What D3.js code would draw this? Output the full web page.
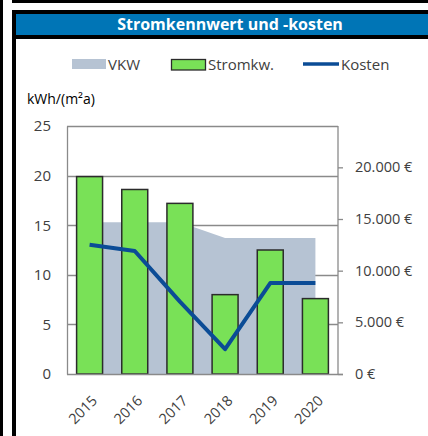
<!DOCTYPE html>
<html>
<head>
<meta charset="utf-8">
<script src="https://cdn.jsdelivr.net/npm/d3@7/dist/d3.min.js"></script>
<style>
  html, body { margin: 0; padding: 0; background: #fff; }
  svg { display: block; }
  text { font-family: "Open Sans", "Liberation Sans", sans-serif; }
</style>
</head>
<body>
<svg id="chart" width="428" height="436"></svg>
<script>
// Electricity consumption per area (kWh/(m²a)) and yearly electricity costs
const years = ["2015", "2016", "2017", "2018", "2019", "2020"];
const vkw = [15.3, 15.3, 15.3, 13.7, 13.7, 13.7];          // reference value (area)
const stromkw = [19.9, 18.6, 17.2, 8.0, 12.5, 7.6];         // consumption (bars)
const kosten = [12500, 11900, 7000, 2400, 8800, 8800];      // costs in € (line)
const leftTicks = [0, 5, 10, 15, 20, 25];
const rightTicks = [0, 5000, 10000, 15000, 20000];
const legendLabels = ["VKW", "Stromkw.", "Kosten"];
const title = "Stromkennwert und -kosten";
const unitLabel = "kWh/(m²a)";

const colors = {
  title: "#0075B6",
  vkw: "#B6C3D3",
  bar: "#79E157",
  barStroke: "#2b2b2b",
  line: "#0B4C96",
  grid: "#8a8a8a",
  text: "#404040"
};

const svg = d3.select("#chart");

// Frame around the panel
svg.append("rect").attr("x", 0).attr("y", 0).attr("width", 3).attr("height", 436).attr("fill", "#000");
svg.append("rect").attr("x", 12).attr("y", 0).attr("width", 416).attr("height", 3).attr("fill", "#000");
svg.append("rect").attr("x", 12).attr("y", 10).attr("width", 4).attr("height", 426).attr("fill", "#000");
svg.append("rect").attr("x", 12).attr("y", 10).attr("width", 416).attr("height", 4).attr("fill", "#000");
svg.append("rect").attr("x", 16).attr("y", 14).attr("width", 412).attr("height", 21).attr("fill", colors.title);
svg.append("rect").attr("x", 12).attr("y", 35).attr("width", 416).attr("height", 4).attr("fill", "#000");

svg.append("text")
  .attr("x", 230).attr("y", 30)
  .attr("text-anchor", "middle")
  .attr("fill", "#fff")
  .attr("font-weight", "bold")
  .attr("font-size", 16)
  .text(title);

// Scales
const plot = { left: 67, right: 338, top: 126, bottom: 374 };
const x = d3.scaleBand()
  .domain(years)
  .range([plot.left, plot.right])
  .paddingInner(0.425)
  .paddingOuter(0.2125);
const cx = d => x(d) + x.bandwidth() / 2;
const yL = d3.scaleLinear().domain([0, 25]).range([plot.bottom, plot.top]);
const yR = d3.scaleLinear().domain([0, 24000]).range([plot.bottom, plot.top]);

const euro = d3.formatLocale({
  decimal: ",", thousands: ".", grouping: [3], currency: ["", " €"]
}).format("$,");

// Horizontal grid lines
svg.append("g")
  .selectAll("line")
  .data(leftTicks.filter(t => t > 0))
  .join("line")
  .attr("x1", plot.left).attr("x2", plot.right)
  .attr("y1", d => Math.round(yL(d)) + 0.5).attr("y2", d => Math.round(yL(d)) + 0.5)
  .attr("stroke", colors.grid).attr("stroke-width", 1.3);

// VKW area
const area = d3.area()
  .x((d, i) => cx(years[i]))
  .y0(yL(0))
  .y1(d => yL(d));
svg.append("path")
  .datum(vkw)
  .attr("d", area)
  .attr("fill", colors.vkw);

// Left axis (labels only, no tick marks)
const leftAxis = d3.axisLeft(yL).tickValues(leftTicks).tickSize(0).tickPadding(16);
const gL = svg.append("g").attr("transform", `translate(${plot.left},0)`).call(leftAxis);
gL.select(".domain").attr("stroke", colors.grid).attr("stroke-width", 1.3);
gL.selectAll("text").attr("font-size", 15).attr("fill", colors.text).attr("font-family", "Open Sans, sans-serif");

// Right axis for costs
const rightAxis = d3.axisRight(yR).tickValues(rightTicks).tickSize(5).tickPadding(12).tickFormat(euro);
const gR = svg.append("g").attr("transform", `translate(${plot.right},0)`).call(rightAxis);
gR.select(".domain").attr("stroke", colors.grid).attr("stroke-width", 1.3).attr("d", `M0,${plot.top}V${plot.bottom}`);
gR.selectAll(".tick line").attr("stroke", colors.grid).attr("stroke-width", 1.3);
gR.selectAll("text").attr("font-size", 14.5).attr("fill", colors.text).attr("font-family", "Open Sans, sans-serif");

// Bars
svg.append("g")
  .selectAll("rect")
  .data(stromkw)
  .join("rect")
  .attr("x", (d, i) => x(years[i]))
  .attr("y", d => yL(d))
  .attr("width", x.bandwidth())
  .attr("height", d => yL(0) - yL(d))
  .attr("fill", colors.bar)
  .attr("stroke", colors.barStroke)
  .attr("stroke-width", 1.5);

// Bottom axis line
svg.append("line")
  .attr("x1", plot.left).attr("x2", plot.right + 5)
  .attr("y1", plot.bottom + 0.5).attr("y2", plot.bottom + 0.5)
  .attr("stroke", colors.grid).attr("stroke-width", 1.3);

// Cost line
const line = d3.line()
  .x((d, i) => cx(years[i]))
  .y(d => yR(d));
svg.append("path")
  .datum(kosten)
  .attr("d", line)
  .attr("fill", "none")
  .attr("stroke", colors.line)
  .attr("stroke-width", 4)
  .attr("stroke-linejoin", "round");

// Year labels, rotated
svg.append("g")
  .selectAll("text")
  .data(years)
  .join("text")
  .attr("transform", d => `translate(${cx(d) + 5},${plot.bottom + 24}) rotate(-45)`)
  .attr("text-anchor", "end")
  .attr("dy", "0.35em")
  .attr("font-size", 14.5)
  .attr("fill", colors.text)
  .text(d => d);

// Unit label
svg.append("text")
  .attr("x", 27).attr("y", 104)
  .attr("font-size", 14)
  .attr("fill", "#000")
  .text(unitLabel);

// Legend
const lg = svg.append("g");
lg.append("rect").attr("x", 72).attr("y", 59).attr("width", 34).attr("height", 10).attr("fill", colors.vkw);
lg.append("rect").attr("x", 171.5).attr("y", 59.5).attr("width", 34).attr("height", 10.5)
  .attr("fill", colors.bar).attr("stroke", colors.barStroke).attr("stroke-width", 1.3);
lg.append("line").attr("x1", 303).attr("x2", 339).attr("y1", 64).attr("y2", 64)
  .attr("stroke", colors.line).attr("stroke-width", 3.5);
const legendX = [108, 208, 341];
lg.selectAll("text.lbl")
  .data(legendLabels)
  .join("text")
  .attr("class", "lbl")
  .attr("x", (d, i) => legendX[i])
  .attr("y", 69.5)
  .attr("font-size", 15)
  .attr("fill", colors.text)
  .text(d => d);
</script>
</body>
</html>
